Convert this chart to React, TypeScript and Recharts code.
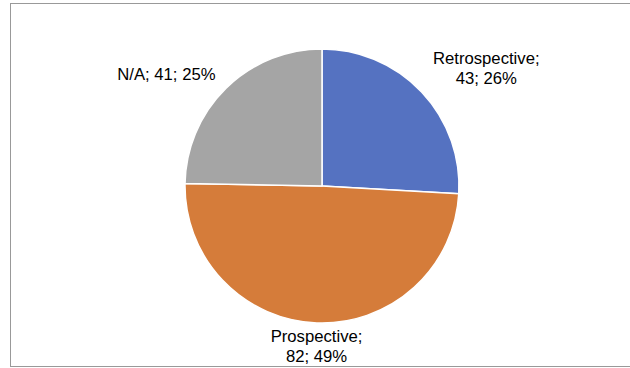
import React from 'react';
import { PieChart, Pie, Cell } from 'recharts';

const categories = ['Retrospective', 'Prospective', 'N/A'];
const counts = [43, 82, 41];
const percents = [26, 49, 25];
// two-line labels where Excel wrapped them
const wrapped = [true, true, false];

const COLORS = ['#5572C1', '#D57C3A', '#A5A5A5'];
const RADIAN = Math.PI / 180;
const FONT = 16.7;
const LINE_H = 20;

const data = categories.map((name, i) => ({
  name,
  value: counts[i],
  pct: percents[i],
  wrap: wrapped[i],
}));

// rough width of a label line, used to centre wrapped labels next to the pie
const approxWidth = (s: string) => s.length * FONT * 0.46;

const renderLabel = ({ cx, cy, midAngle, outerRadius, index }: any) => {
  const item = data[index];
  const cos = Math.cos(-midAngle * RADIAN);
  const sin = Math.sin(-midAngle * RADIAN);
  const upper = sin < 0;
  const r = outerRadius + (upper ? 15 : 7);
  const px = cx + r * cos;
  const py = cy + r * sin;
  const lines = item.wrap
    ? [`${item.name};`, `${item.value}; ${item.pct}%`]
    : [`${item.name}; ${item.value}; ${item.pct}%`];

  let anchor: 'start' | 'middle' | 'end' = 'middle';
  let x = px;
  if (cos > 0.3) {
    if (lines.length > 1) {
      x = px + approxWidth(lines[0]) / 2;
    } else {
      anchor = 'start';
    }
  } else if (cos < -0.3) {
    if (lines.length > 1) {
      x = px - approxWidth(lines[0]) / 2;
    } else {
      anchor = 'end';
    }
  }
  const firstBaseline = upper ? py + 2 - (lines.length - 1) * LINE_H : py + 12;
  return (
    <text
      x={x}
      y={firstBaseline}
      fill="#000"
      fontSize={FONT}
      fontFamily="'Liberation Sans', Arial, sans-serif"
      textAnchor={anchor}
    >
      {lines.map((l, i) => (
        <tspan key={i} x={x} dy={i === 0 ? 0 : LINE_H}>
          {l}
        </tspan>
      ))}
    </text>
  );
};

export default function App() {
  return (
    <div style={{ position: 'absolute', left: 0, top: 0, width: 630, height: 368, background: '#fff', overflow: 'hidden' }}>
      <div
        style={{
          position: 'absolute',
          left: 10,
          top: 3,
          width: 660,
          height: 364,
          border: '1.5px solid #999',
          boxSizing: 'border-box',
        }}
      />
      <div style={{ position: 'absolute', left: 0, top: 0 }}>
        <PieChart width={630} height={368} margin={{ top: 0, right: 0, bottom: 0, left: 0 }}>
          <Pie
            data={data}
            dataKey="value"
            nameKey="name"
            cx={322}
            cy={186}
            outerRadius={137}
            startAngle={90}
            endAngle={-270}
            stroke="#ffffff"
            strokeWidth={1.5}
            labelLine={false}
            label={renderLabel}
            isAnimationActive={false}
          >
            {data.map((entry, index) => (
              <Cell key={`cell-${index}`} fill={COLORS[index % COLORS.length]} />
            ))}
          </Pie>
        </PieChart>
      </div>
    </div>
  );
}
